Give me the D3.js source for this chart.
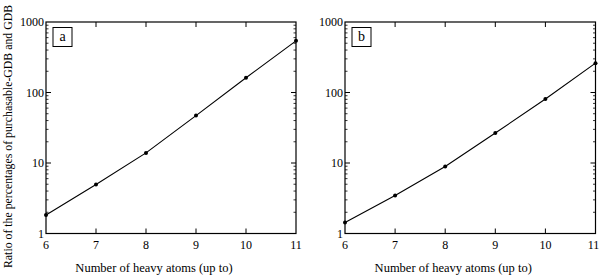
<!DOCTYPE html>
<html>
<head>
<script src="https://d3js.org/d3.v7.min.js"></script>
<style>
  body { margin: 0; background: #fff; }
</style>
</head>
<body>
<script>
// heavy atom counts (x) and ratio values for the two panels
const atoms = [6, 7, 8, 9, 10, 11];
const ratioA = [1.83, 4.95, 13.9, 47, 162, 540];
const ratioB = [1.43, 3.45, 8.9, 26.6, 81, 261];
const panelLabels = ["a", "b"];
const yTicks = [1, 10, 100, 1000];

const W = 600, H = 277;
const svg = d3.select("body").append("svg")
    .attr("width", W).attr("height", H)
    .style("font-family", "'Liberation Serif', 'Times New Roman', 'DejaVu Serif', serif");

const panels = [
    { left: 46, right: 296, data: ratioA, label: panelLabels[0] },
    { left: 345, right: 595.5, data: ratioB, label: panelLabels[1] }
];
const plotTop = 22, plotBottom = 233.5;

// minor ticks 2..9 per decade
let minor = [];
[1, 10, 100].forEach(d => { for (let k = 2; k <= 9; k++) minor.push(d * k); });

panels.forEach(p => {
    const x = d3.scaleLinear().domain([6, 11]).range([p.left, p.right]);
    const y = d3.scaleLog().domain([1, 1000]).range([plotBottom, plotTop]);
    const g = svg.append("g");

    // frame
    g.append("rect")
        .attr("x", p.left).attr("y", plotTop)
        .attr("width", p.right - p.left).attr("height", plotBottom - plotTop)
        .attr("fill", "none").attr("stroke", "#000").attr("stroke-width", 1.2);

    // x ticks (inward, top and bottom)
    [7, 8, 9, 10].forEach(v => {
        g.append("line").attr("x1", x(v)).attr("x2", x(v))
            .attr("y1", plotBottom).attr("y2", plotBottom - 5).attr("stroke", "#000");
        g.append("line").attr("x1", x(v)).attr("x2", x(v))
            .attr("y1", plotTop).attr("y2", plotTop + 5).attr("stroke", "#000");
    });
    atoms.forEach(v => {
        g.append("text").attr("x", x(v) - (v === 11 && p.label === "b" ? 2 : 0)).attr("y", plotBottom + 15)
            .attr("text-anchor", "middle").style("font-size", "12px").text(v);
    });

    // y ticks (inward, both sides)
    [10, 100].forEach(v => {
        g.append("line").attr("x1", p.left).attr("x2", p.left + 5)
            .attr("y1", y(v)).attr("y2", y(v)).attr("stroke", "#000");
        g.append("line").attr("x1", p.right).attr("x2", p.right - 5)
            .attr("y1", y(v)).attr("y2", y(v)).attr("stroke", "#000");
    });
    minor.forEach(v => {
        g.append("line").attr("x1", p.left).attr("x2", p.left + 2.5)
            .attr("y1", y(v)).attr("y2", y(v)).attr("stroke", "#000").attr("stroke-width", 0.8);
        g.append("line").attr("x1", p.right).attr("x2", p.right - 2.5)
            .attr("y1", y(v)).attr("y2", y(v)).attr("stroke", "#000").attr("stroke-width", 0.8);
    });
    yTicks.forEach(v => {
        g.append("text").attr("x", p.left - 2).attr("y", y(v) + 4)
            .attr("text-anchor", "end").style("font-size", "12px").text(v);
    });

    // line and points
    const pts = atoms.map((a, i) => [a, p.data[i]]);
    g.append("path").datum(pts)
        .attr("fill", "none").attr("stroke", "#000").attr("stroke-width", 1.1)
        .attr("d", d3.line().x(d => x(d[0])).y(d => y(d[1])));
    g.selectAll("circle").data(pts).enter().append("circle")
        .attr("cx", d => x(d[0])).attr("cy", d => y(d[1]))
        .attr("r", 2).attr("fill", "#000");

    // panel label box
    g.append("rect").attr("x", p.left + 7).attr("y", plotTop + 5.5)
        .attr("width", 19).attr("height", 19)
        .attr("fill", "#fff").attr("stroke", "#000").attr("stroke-width", 1);
    g.append("text").attr("x", p.left + 16.5).attr("y", plotTop + 19)
        .attr("text-anchor", "middle").style("font-size", "14px").text(p.label);

    // x title
    g.append("text").attr("x", (p.left + p.right) / 2 - 17).attr("y", 272)
        .attr("text-anchor", "middle").style("font-size", "12.5px")
        .text("Number of heavy atoms (up to)");
});

// y title
svg.append("text")
    .attr("transform", "translate(12,268) rotate(-90)")
    .style("font-size", "11.8px")
    .text("Ratio of the percentages of purchasable-GDB and GDB");
</script>
</body>
</html>
